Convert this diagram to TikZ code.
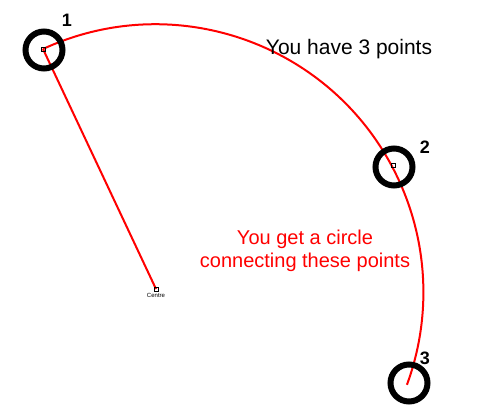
\documentclass[tikz,border=0pt]{standalone}
\usepackage{fontspec}
\setmainfont{Liberation Sans}
\tikzset{
  ring/.style={circle, draw=black, line width=6pt, minimum size=37pt, inner sep=0pt},
  marker/.style={draw=black, line width=0.6pt, minimum size=4pt, inner sep=0pt},
  ptlabel/.style={font=\bfseries\fontsize{18}{20}\selectfont, text=black},
  redline/.style={red, line width=2pt}
}
\begin{document}
\begin{tikzpicture}[x=1pt, y=-1pt]
\useasboundingbox (0,0) rectangle (490,419);
\coordinate (pt1) at (43,49);
\coordinate (pt3) at (408,382);
\coordinate (ctr) at (156,289);
% the arc and the radius
\draw[redline] (pt1) arc[start angle=-114.8, end angle=20.2, radius=268];
\draw[redline] (pt1) -- (ctr);
\node[ring] (p1) at (44,50) {};
\node[ring] (p2) at (394,167) {};
\node[ring] (p3) at (409,383) {};
\node[marker] (m1) at (pt1) {};
\node[marker] (m2) at (393,165) {};
\node[marker] (mc) at (ctr) {};
\node[ptlabel] (l1) at (67,20) {1};
\node[ptlabel] (l2) at (425,147) {2};
\node[ptlabel] (l3) at (425,358) {3};
\node[font=\fontsize{6}{7}\selectfont] (cname) at (156,295) {Centre};
\node[font=\fontsize{21}{24}\selectfont] (note1) at (349,49) {You have 3 points};
\node[font=\fontsize{20}{23}\selectfont, text=red, align=center] (note2) at (305,251) {You get a circle\\connecting these points};
\end{tikzpicture}
\end{document}
